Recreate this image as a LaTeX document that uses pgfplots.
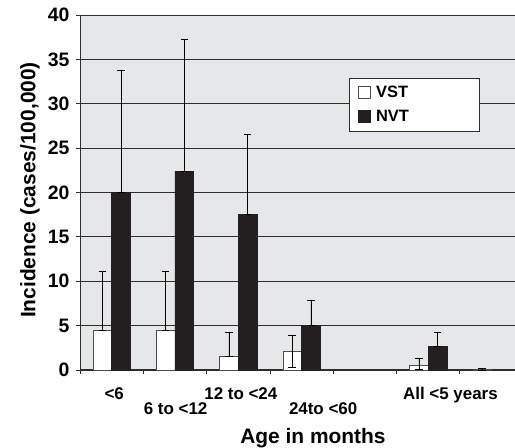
\documentclass[border=0pt]{standalone}
\usepackage{fontspec}
\setmainfont{Liberation Sans}
\usepackage{pgfplots}
\pgfplotsset{compat=1.18}
\definecolor{bg}{HTML}{E6E7E8}
\definecolor{barblk}{HTML}{231F20}
\definecolor{gridc}{HTML}{2E2E2E}
\begin{document}
\begin{tikzpicture}[x=1bp,y=1bp]
\path[use as bounding box] (-80,-78) rectangle (435,370);
\begin{axis}[
  scale only axis, width=435bp, height=355bp,
  at={(0,0)}, anchor=south west,
  xmin=0.5, xmax=7.37, ymin=0, ymax=40,
  clip=false,
  axis background/.style={fill=bg},
  axis x line*=bottom, axis y line*=left,
  axis line style={gridc, line width=1bp},
  ybar=0pt, bar width=0.295,
  ytick={0,5,...,40},
  ymajorgrids, grid style={gridc, line width=0.9bp},
  xtick={0.5,1.5,...,6.5}, xticklabels={},
  tick style={gridc, line width=0.9bp}, major tick length=4bp, tick align=outside,
  /pgf/number format/assume math mode=true,
  yticklabel style={font=\bfseries\fontsize{19.5}{19.5}\selectfont, xshift=-3bp},
  extra x ticks={1.04,2.01,3.04,4.34,6.35},
  extra x tick labels={{<6},{\raisebox{-15bp}[\height][\depth]{6 to <12}},{12 to <24},{\raisebox{-15bp}[\height][\depth]{24to <60}},{All <5 years}},
  extra x tick style={major tick length=0pt, xticklabel style={font=\bfseries\fontsize{17}{17}\selectfont, anchor=north, yshift=-14bp}},
  xlabel={Age in months},
  xlabel style={at={(axis description cs:0.5356,-0.1915)}, anchor=center, font=\bfseries\fontsize{21}{21}\selectfont},
  ylabel={Incidence (cases/100,000)},
  ylabel style={at={(axis description cs:-0.115,0.507)}, anchor=center, font=\bfseries\fontsize{21}{21}\selectfont},
  legend style={at={(0.618,0.823)}, anchor=north west, draw=gridc, fill=white, line width=0.9bp,
    font=\bfseries\fontsize{16.5}{16.5}\selectfont, inner xsep=9bp, inner ysep=6bp, row sep=7bp},
  legend cell align=left,
  legend image code/.code={\draw[#1, line width=0.8bp] (0bp,-6bp) rectangle (12bp,6bp);},
  error bars/error bar style={black, line width=0.8bp},
  error bars/error mark options={black, line width=0.8bp, mark size=3.8bp, rotate=90},
]
\addplot[fill=white, draw=black!70, line width=0.8bp,
  error bars/.cd, y dir=both, y explicit]
  coordinates {
  (1,4.5) += (0,6.6) -= (0,0)
  (2,4.5) += (0,6.6) -= (0,0)
  (3,1.5) += (0,2.75) -= (0,0)
  (4,2.07) += (0,1.8) -= (0,1.8)
  (6,0.53) += (0,0.8) -= (0,0.5)
  (7,0) += (0,0.2) -= (0,0)
  };
\addlegendentry{\makebox[95bp][l]{\hspace{3bp}VST}}
\addplot[fill=barblk, draw=barblk, line width=0.8bp,
  error bars/.cd, y dir=both, y explicit]
  coordinates {
  (1,20.0) += (0,13.8) -= (0,0)
  (2,22.4) += (0,14.9) -= (0,0)
  (3,17.5) += (0,9.1) -= (0,0)
  (4,5.0) += (0,2.8) -= (0,0)
  (6,2.7) += (0,1.5) -= (0,0)
  };
\addlegendentry{\makebox[95bp][l]{\hspace{3bp}NVT}}
\end{axis}
\end{tikzpicture}
\end{document}
